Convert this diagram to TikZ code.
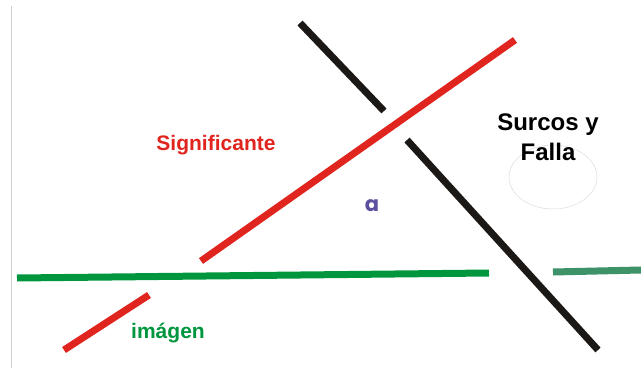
\documentclass[tikz,border=0pt]{standalone}
\usepackage{fontspec}
\setmainfont{Liberation Sans}
\newfontfamily\roundfont{Poppins}
\usetikzlibrary{positioning}
\definecolor{signred}{RGB}{224,36,30}
\definecolor{imggreen}{RGB}{0,150,62}
\definecolor{tealgreen}{RGB}{62,146,104}
\definecolor{furrowblack}{RGB}{28,24,22}
\definecolor{apurple}{RGB}{92,80,160}

\begin{document}
\begin{tikzpicture}[x=1pt, y=-1pt,
  bar/.style={line width=7pt},
  lbl/.style={inner sep=0pt, font=\bfseries\fontsize{21}{25}\selectfont},
  faint/.style={draw=black!18, line width=0.6pt}]
\useasboundingbox (0,0) rectangle (641,370);
\draw[faint] (11,6) -- (11,368);
\draw[faint, draw=black!14, line width=0.5pt] (553,177) ellipse [x radius=44, y radius=32];

% lines
\draw[bar, imggreen] (17,278) -- (489,273);
\draw[bar, tealgreen] (553,272) -- (641,270);
\draw[bar, signred] (201,261) -- (515,40);
\draw[bar, signred] (64,350) -- (149,295);
\draw[bar, furrowblack] (300,23) -- (384,111);
\draw[bar, furrowblack] (407,140) -- (598,350);

% labels
\node[lbl, signred] (sig) at (216,145) {Significante};
\node[lbl, apurple, font=\roundfont\bfseries\fontsize{21}{25}\selectfont] (a) at (372,206) {a};
\node[lbl, imggreen] (img) at (168,333) {imágen};
\node[lbl, black, align=center, font=\bfseries\fontsize{24}{30}\selectfont] (surcos) at (548,137) {Surcos y\\Falla};
\end{tikzpicture}
\end{document}
